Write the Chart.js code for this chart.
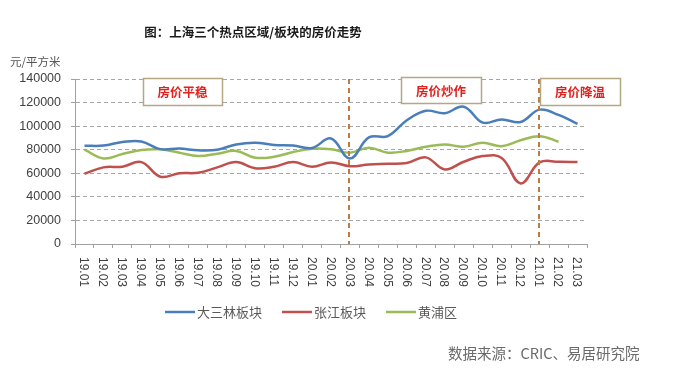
<!DOCTYPE html>
<html>
<head>
<meta charset="utf-8">
<script src="https://cdn.jsdelivr.net/npm/chart.js@4/dist/chart.umd.min.js"></script>
<style>
html,body{margin:0;padding:0;background:#fff;}
#wrap{width:691px;height:392px;}
</style>
</head>
<body>
<div id="wrap"><canvas id="c" width="691" height="392"></canvas></div>
<script>
const categories = ['19.01','19.02','19.03','19.04','19.05','19.06','19.07','19.08','19.09','19.10','19.11','19.12','20.01','20.02','20.03','20.04','20.05','20.06','20.07','20.08','20.09','20.10','20.11','20.12','21.01','21.02','21.03'];
const dasanlin = [83400,83500,86500,87000,80500,81000,79500,80000,84500,86000,84000,83500,81500,89500,72500,90500,91600,105000,113000,111000,116500,103000,105700,103500,114000,109500,102000];
const zhangjiang = [59600,65000,65600,69500,57100,60000,60500,65000,69500,64200,65600,69500,65600,69200,66000,67500,68000,68700,73500,63300,69800,74600,73000,51400,69200,69800,69500];
const huangpu = [80000,72600,76300,79700,80300,77500,74600,76600,79000,73200,74000,78000,80800,80300,77500,81700,77500,79000,82500,84500,82500,86000,83000,88000,91500,86800];
const seriesNames = ['大三林板块','张江板块','黄浦区'];
const yTicks = [0,20000,40000,60000,80000,100000,120000,140000];
const phaseLabels = ['房价平稳','房价炒作','房价降温'];
const phaseLines = ['20.03','21.01'];
const titleText = '图：上海三个热点区域/板块的房价走势';
const unitText = '元/平方米';
const sourceText = '数据来源：CRIC、易居研究院';

const colors = ['#4a7ebb','#c0504d','#9bbb59'];

const decor = {
  id: 'decor',
  afterDatasetsDraw(chart) {
    const ctx = chart.ctx;
    const xs = chart.scales.x;
    const ca = chart.chartArea;
    ctx.save();
    ctx.strokeStyle = '#c07a40';
    ctx.lineWidth = 2;
    ctx.setLineDash([5,4]);
    phaseLines.forEach(l => {
      const x = Math.round(xs.getPixelForValue(categories.indexOf(l))) - 1;
      ctx.beginPath();
      ctx.moveTo(x, ca.top);
      ctx.lineTo(x, ca.bottom);
      ctx.stroke();
    });
    ctx.setLineDash([]);
    const boxes = [[143,78,79,27],[401,77,80,26],[540,78,80,27]];
    boxes.forEach((b,i) => {
      ctx.fillStyle = '#ffffff';
      ctx.fillRect(b[0],b[1],b[2],b[3]);
      ctx.strokeStyle = '#b5a684';
      ctx.lineWidth = 1.5;
      ctx.strokeRect(b[0]+0.5,b[1]+0.5,b[2],b[3]);
      ctx.fillStyle = '#e3201c';
      ctx.font = 'bold 12.5px "Noto Sans CJK SC"';
      ctx.textAlign = 'center';
      ctx.textBaseline = 'middle';
      ctx.fillText(phaseLabels[i], b[0]+b[2]/2, b[1]+b[3]/2+1);
    });
    ctx.restore();
  },
  afterDraw(chart) {
    const ctx = chart.ctx;
    const xs = chart.scales.x;
    ctx.save();
    ctx.fillStyle = '#404040';
    ctx.font = '12px "Liberation Sans"';
    ctx.textAlign = 'left';
    ctx.textBaseline = 'middle';
    categories.forEach((c,i) => {
      const x = xs.getPixelForValue(i);
      ctx.save();
      ctx.translate(x - 1, 257);
      ctx.rotate(Math.PI/2);
      ctx.fillText(c, 0, 0);
      ctx.restore();
    });
    ctx.fillStyle = '#1a1a1a';
    ctx.font = 'bold 12.5px "Noto Sans CJK SC"';
    ctx.textAlign = 'center';
    ctx.fillText(titleText, 253, 32);
    ctx.fillStyle = '#555555';
    ctx.font = '11.5px "Noto Sans CJK SC"';
    ctx.textAlign = 'left';
    ctx.fillText(unitText, 10, 62);
    ctx.font = '13px "Noto Sans CJK SC"';
    let lx = 165;
    chart.data.datasets.forEach(ds => {
      ctx.strokeStyle = ds.borderColor;
      ctx.lineWidth = 2.5;
      ctx.beginPath();
      ctx.moveTo(lx, 312);
      ctx.lineTo(lx+30, 312);
      ctx.stroke();
      ctx.fillStyle = '#595959';
      ctx.fillText(ds.label, lx+32, 312);
      lx += 32 + ctx.measureText(ds.label).width + 20;
    });
    ctx.fillStyle = '#6a6a6a';
    ctx.font = '14.5px "Noto Sans CJK SC"';
    ctx.fillText(sourceText, 448, 353);
    ctx.restore();
  }
};

new Chart(document.getElementById('c'), {
  type: 'line',
  data: {
    labels: categories,
    datasets: [
      {label: seriesNames[0], data: dasanlin, borderColor: colors[0], backgroundColor: colors[0]},
      {label: seriesNames[1], data: zhangjiang, borderColor: colors[1], backgroundColor: colors[1]},
      {label: seriesNames[2], data: huangpu, borderColor: colors[2], backgroundColor: colors[2]}
    ]
  },
  options: {
    responsive: false,
    animation: false,
    devicePixelRatio: 1,
    layout: {padding: {left: 0, top: 79, right: 104, bottom: 0}},
    elements: {
      line: {tension: 0.4, borderWidth: 2.5, fill: false},
      point: {radius: 0, hoverRadius: 0}
    },
    plugins: {legend: {display: false}, title: {display: false}, tooltip: {enabled: false}},
    scales: {
      x: {
        type: 'category',
        offset: true,
        grid: {offset: true, drawOnChartArea: false, drawTicks: true, tickLength: 4, color: '#a0a0a0'},
        border: {display: true, color: '#a0a0a0', width: 1},
        ticks: {display: false},
        afterFit(s) { s.height = 148; }
      },
      y: {
        min: 0, max: 140000,
        afterBuildTicks(s) { s.ticks = yTicks.map(v => ({value: v})); },
        grid: {color: '#a6a6a6', lineWidth: 1, drawTicks: true, tickLength: 4, tickColor: '#a0a0a0'},
        border: {display: true, color: '#a0a0a0', width: 1, dash: [4,3]},
        ticks: {padding: 10, color: '#404040', font: {family: 'Liberation Sans', size: 12.5}, callback: v => String(v)},
        afterFit(s) { s.width = 75; }
      }
    }
  },
  plugins: [decor]
});
</script>
</body>
</html>
